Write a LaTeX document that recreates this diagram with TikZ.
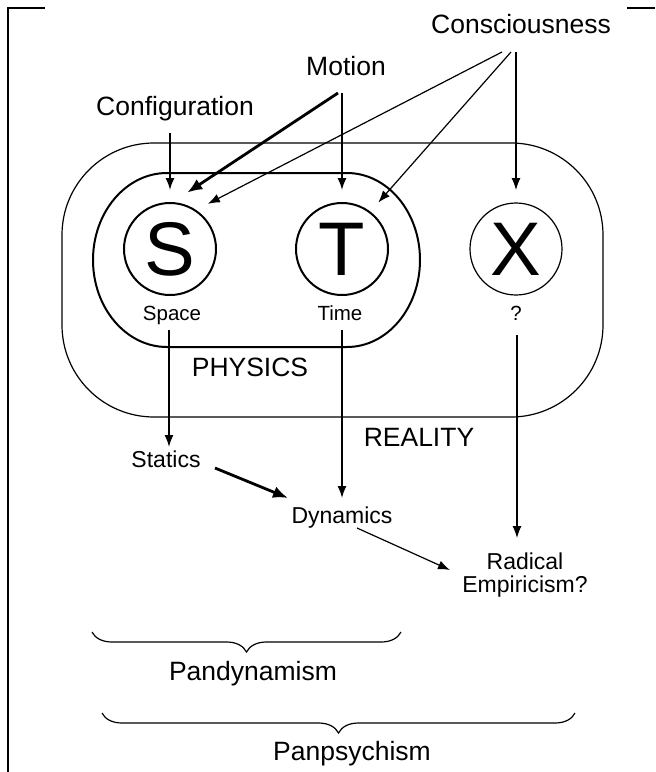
\documentclass[tikz,border=0pt]{standalone}
\usepackage{fontspec}
\setmainfont{Liberation Sans}
\usetikzlibrary{arrows.meta,decorations.pathreplacing}
\tikzset{
  arr/.style={-{Latex[length=6pt,width=4.5pt]}, line width=#1},
  arr/.default=0.6pt,
  bigarr/.style={-{Latex[length=7.5pt,width=6pt]}, line width=1.4pt},
  lab/.style={font=\fontsize{13.25}{15}\selectfont, inner sep=0pt, anchor=base},
  sub/.style={font=\fontsize{11.5}{11.5}\selectfont, inner sep=0pt, anchor=base},
  tag/.style={font=\fontsize{10.25}{12}\selectfont, inner sep=0pt, anchor=base},
  dimnode/.style={circle, draw, line width=#1, minimum size=46pt, inner sep=0pt,
    outer sep=6.5pt, font=\fontsize{38}{38}\selectfont},
  dimnode/.default=1pt,
  brc/.style={decorate, decoration={brace, mirror, amplitude=10pt}, line width=0.6pt}
}
\begin{document}
\begin{tikzpicture}[x=0.5pt,y=-0.5pt]
  \useasboundingbox (0,0) rectangle (655,772);
  \draw[line width=1.2pt] (45,8) -- (8,8) -- (8,772);
  \draw[line width=1.2pt] (627,8) -- (655,8);
  \draw[line width=0.6pt, rounded corners=46pt] (62,143) rectangle (603,417);
  \draw[line width=1pt] (167,173) -- (347,173)
    arc[start angle=90, end angle=-90, x radius=36.5pt, y radius=43.5pt]
    -- (167,347)
    arc[start angle=270, end angle=90, x radius=37pt, y radius=43.5pt] -- cycle;
  \node[dimnode] (S) at (170,249) {S};
  \node[dimnode] (T) at (342,249) {T};
  \node[dimnode=0.6pt] (X) at (516,249) {X};
  \node[tag] (spc) at (172,320) {Space};
  \node[tag] (tim) at (340,320) {Time};
  \node[tag] (qm) at (516,320) {?};
  \node[lab] (phys) at (250,376) {PHYSICS};
  \node[lab] (real) at (419,446) {REALITY};
  \node[lab] (cons) at (521,33) {Consciousness};
  \node[lab] (mot) at (346,75) {Motion};
  \node[lab] (conf) at (175,115) {Configuration};
  \node[sub] (stat) at (166,467) {Statics};
  \node[sub] (dyn) at (342,523) {Dynamics};
  \node[sub, anchor=north, align=center] (rad) at (525,552.5) {Radical\\Empiricism?};
  \node[lab] (pdy) at (253,680) {Pandynamism};
  \node[lab] (pps) at (352,760) {Panpsychism};
  \draw[arr=0.8pt] ([shift={(-5,18)}]conf.base) -- (S.north);
  \draw[bigarr] ([shift={(-8,18)}]mot.base) -- (S.73);
  \draw[arr=0.8pt] ([shift={(-4,18)}]mot.base) -- (T.north);
  \draw[arr] ([shift={(-19,19)}]cons.base) -- (S.50);
  \draw[arr] ([shift={(-10,19)}]cons.base) -- (T.52);
  \draw[arr] ([shift={(-5,19)}]cons.base) -- (X.north);
  \draw[arr=0.8pt] ([shift={(-3,10)}]spc.base) -- ([shift={(3,-20)}]stat.base);
  \draw[arr=0.8pt] ([shift={(2,10)}]tim.base) -- ([shift={(0,-25)}]dyn.base);
  \draw[bigarr] ([shift={(49,1)}]stat.base) -- ([shift={(-54,-25)}]dyn.base);
  \draw[arr] ([shift={(15,5)}]dyn.base) -- ([shift={(-75,17.5)}]rad.north);
  \draw[arr] ([shift={(1,15)}]qm.base) -- ([shift={(-8,-14.5)}]rad.north);
  \draw[brc] (92,632) -- (401,632);
  \draw[brc] (102,713) -- (575,713);
\end{tikzpicture}
\end{document}
